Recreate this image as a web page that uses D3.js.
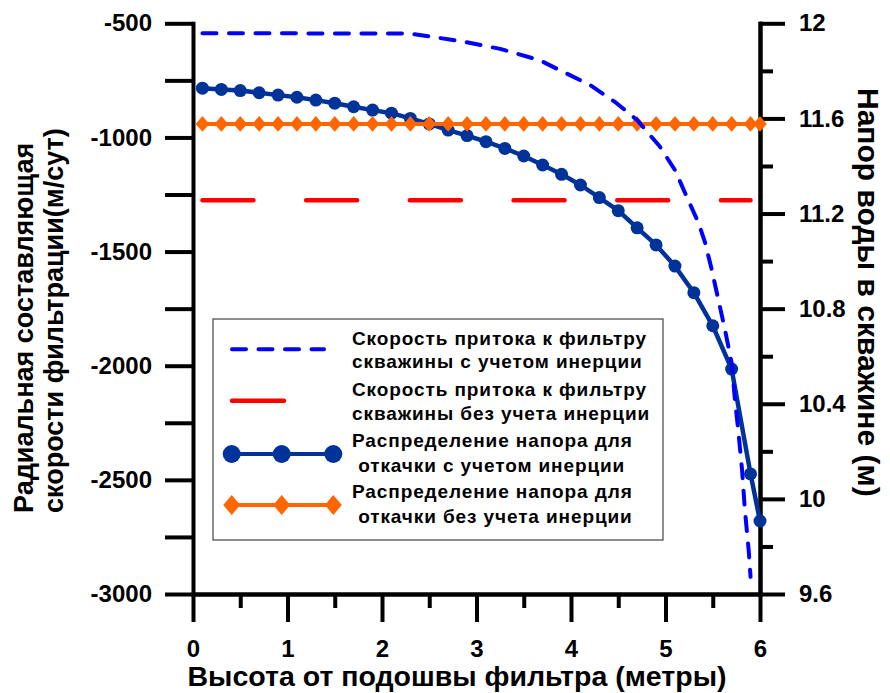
<!DOCTYPE html>
<html>
<head>
<meta charset="utf-8">
<script src="https://cdn.jsdelivr.net/npm/d3@7"></script>
<style>
  html, body { margin: 0; padding: 0; background: #fff; }
  svg { display: block; font-family: "Liberation Sans", Arial, sans-serif; font-weight: bold; }
</style>
</head>
<body>
<svg id="chart" width="890" height="693"></svg>
<script>
// ---------- DATA ----------
// heights (m) of the head-distribution points
const headX = [0.1, 0.3, 0.5, 0.7, 0.9, 1.1, 1.3, 1.5, 1.7, 1.9, 2.1, 2.3, 2.5, 2.7, 2.9,
               3.1, 3.3, 3.5, 3.7, 3.9, 4.1, 4.3, 4.5, 4.7, 4.9, 5.1, 5.3, 5.5, 5.7, 5.9, 6.0];
// head with inertia (right axis, m)
const headInertia = [11.727, 11.722, 11.717, 11.708, 11.698, 11.689, 11.677, 11.664, 11.649, 11.635,
                     11.622, 11.600, 11.577, 11.551, 11.528, 11.502, 11.474, 11.442, 11.404, 11.365,
                     11.320, 11.267, 11.212, 11.140, 11.068, 10.979, 10.867, 10.728, 10.546, 10.105, 9.907];
// head without inertia (right axis, m)
const headNoInertia = [11.577, 11.577, 11.577, 11.577, 11.577, 11.577, 11.577, 11.577, 11.577, 11.577,
                       11.577, 11.577, 11.577, 11.577, 11.577, 11.577, 11.577, 11.577, 11.577, 11.577,
                       11.577, 11.577, 11.577, 11.577, 11.577, 11.577, 11.577, 11.577, 11.577, 11.577, 11.577];
// inflow velocity with inertia (left axis, m/day)
const velInertiaX = [0.1, 1.0, 2.3, 2.86, 3.25, 3.67, 3.88, 4.2, 4.48, 4.7, 4.94, 5.1, 5.24, 5.35, 5.42,
                     5.49, 5.56, 5.63, 5.7, 5.735, 5.77, 5.81, 5.84, 5.88, 5.9];
const velInertia  = [-544, -544, -545, -580, -612, -662, -705, -770, -849, -924, -1040, -1143, -1274, -1375, -1462,
                     -1581, -1712, -1843, -1988, -2150, -2283, -2456, -2631, -2807, -2925];
// inflow velocity without inertia (left axis, m/day)
const velNoInertiaX = [0.1, 5.9];
const velNoInertia  = [-1275, -1275];

// ticks
const xMajorTicks = [0, 1, 2, 3, 4, 5, 6];
const xMinorTicks = [0.5, 1.5, 2.5, 3.5, 4.5, 5.5];
const leftTicks = [-3000, -2750, -2500, -2250, -2000, -1750, -1500, -1250, -1000, -750, -500];
const leftLabels = {"-3000": "-3000", "-2500": "-2500", "-2000": "-2000", "-1500": "-1500", "-1000": "-1000", "-500": "-500"};
const rightMajorTicks = [9.6, 10, 10.4, 10.8, 11.2, 11.6, 12];
const rightMajorLabels = ["9.6", "10", "10.4", "10.8", "11.2", "11.6", "12"];
const rightMinorTicks = [9.8, 10.2, 10.6, 11.0, 11.4, 11.8];

// text
const xTitle = "Высота от подошвы фильтра (метры)";
const leftTitle = ["Радиальная составляющая", "скорости фильтрации(м/сут)"];
const rightTitle = "Напор воды в скважине (м)";
const legendLabels = [
  ["Скорость притока к фильтру", "скважины с учетом инерции"],
  ["Скорость притока к фильтру", "скважины без учета инерции"],
  ["Распределение напора для", " откачки с учетом инерции"],
  ["Распределение напора для", " откачки без учета инерции"]
];

// ---------- STYLE ----------
const C_BLUE_DASH = "#0000ff", C_RED = "#ff0000", C_NAVY = "#003399", C_ORANGE = "#ff6600";

const svg = d3.select("#chart");
const x = d3.scaleLinear().domain([0, 6]).range([193, 760]);
const yL = d3.scaleLinear().domain([-3000, -500]).range([594, 23.3]);
const yR = d3.scaleLinear().domain([9.6, 12]).range([594, 23.3]);

function styleAxis(g) {
  g.selectAll("path.domain").attr("stroke", "#000").attr("stroke-width", 4).attr("stroke-linecap", "square");
  g.selectAll(".tick line").attr("stroke", "#000").attr("stroke-width", 4);
  g.selectAll(".tick text").attr("fill", "#000").style("font-size", "24px").style("font-weight", "bold")
    .style("font-family", '"Liberation Sans", Arial, sans-serif');
}

// ---------- AXES ----------
svg.append("g").attr("transform", "translate(0,594)")
  .call(d3.axisBottom(x).tickValues(xMinorTicks).tickSize(14).tickSizeOuter(0).tickFormat(""))
  .call(styleAxis);
svg.append("g").attr("transform", "translate(0,594)")
  .call(d3.axisBottom(x).tickValues(xMajorTicks).tickSize(28).tickSizeOuter(0).tickPadding(18).tickFormat(d => String(d)))
  .call(styleAxis);
svg.append("g").attr("transform", "translate(193,0)")
  .call(d3.axisLeft(yL).tickValues(leftTicks).tickSize(28).tickSizeOuter(0).tickPadding(13)
    .tickFormat(d => leftLabels[String(d)] || ""))
  .call(styleAxis);
svg.append("g").attr("transform", "translate(760,0)")
  .call(d3.axisRight(yR).tickValues(rightMinorTicks).tickSize(13).tickSizeOuter(0).tickFormat(""))
  .call(styleAxis);
svg.append("g").attr("transform", "translate(760,0)")
  .call(d3.axisRight(yR).tickValues(rightMajorTicks).tickSize(25).tickSizeOuter(0).tickPadding(14)
    .tickFormat((d, i) => rightMajorLabels[i]))
  .call(styleAxis);

// ---------- TITLES ----------
svg.append("text").attr("x", 457).attr("y", 686).attr("text-anchor", "middle")
  .style("font-size", "28.5px").text(xTitle);
[33, 63].forEach((bx, i) => {
  svg.append("text").attr("transform", `translate(${bx},513) rotate(-90)`)
    .attr("text-anchor", "start").style("font-size", "27px").text(leftTitle[i]);
});
svg.append("text").attr("transform", "translate(858,88) rotate(90)")
  .attr("text-anchor", "start").style("font-size", "30px").text(rightTitle);

// ---------- SERIES ----------
const plot = svg.append("g");
const lineHead = d3.line().x((d, i) => x(headX[i])).y(d => yR(d));

plot.append("path").datum(headInertia).attr("d", lineHead)
  .attr("fill", "none").attr("stroke", C_NAVY).attr("stroke-width", 4.5).attr("stroke-linejoin", "round");
plot.selectAll("circle.hi").data(headInertia).join("circle").attr("class", "hi")
  .attr("cx", (d, i) => x(headX[i])).attr("cy", d => yR(d)).attr("r", 6.5).attr("fill", C_NAVY);

const diamond = (cx, cy, hw, hh) => `M${cx},${cy - hh}L${cx + hw},${cy}L${cx},${cy + hh}L${cx - hw},${cy}Z`;
plot.append("path").datum(headNoInertia).attr("d", lineHead)
  .attr("fill", "none").attr("stroke", C_ORANGE).attr("stroke-width", 4);
plot.selectAll("path.hn").data(headNoInertia).join("path").attr("class", "hn")
  .attr("d", (d, i) => diamond(x(headX[i]), yR(d), 6.8, 7.8)).attr("fill", C_ORANGE);

plot.append("path").datum(velNoInertia)
  .attr("d", d3.line().x((d, i) => x(velNoInertiaX[i])).y(d => yL(d)))
  .attr("fill", "none").attr("stroke", C_RED).attr("stroke-width", 4.5)
  .attr("stroke-linecap", "round").attr("stroke-dasharray", "51 52.7");

plot.append("path").datum(velInertia)
  .attr("d", d3.line().x((d, i) => x(velInertiaX[i])).y(d => yL(d)))
  .attr("fill", "none").attr("stroke", C_BLUE_DASH).attr("stroke-width", 4)
  .attr("stroke-linecap", "round").attr("stroke-linejoin", "round").attr("stroke-dasharray", "14 12.5");

// ---------- LEGEND ----------
const lg = svg.append("g");
lg.append("rect").attr("x", 213).attr("y", 319).attr("width", 450).attr("height", 221)
  .attr("fill", "#fff").attr("stroke", "#444").attr("stroke-width", 1.2);

const symY = [349.3, 400.7, 454, 505];
const textY = [[345, 368.3], [396, 420], [446.7, 471.7], [498.3, 523]];
const symX = [231.7, 281.7, 333.3];

lg.append("line").attr("x1", 232).attr("x2", 324).attr("y1", symY[0]).attr("y2", symY[0])
  .attr("stroke", C_BLUE_DASH).attr("stroke-width", 4).attr("stroke-linecap", "round").attr("stroke-dasharray", "14 12.5");
lg.append("line").attr("x1", 232).attr("x2", 284).attr("y1", symY[1]).attr("y2", symY[1])
  .attr("stroke", C_RED).attr("stroke-width", 4.5).attr("stroke-linecap", "round");
lg.append("line").attr("x1", symX[0]).attr("x2", symX[2]).attr("y1", symY[2]).attr("y2", symY[2])
  .attr("stroke", C_NAVY).attr("stroke-width", 4);
symX.forEach(sx => lg.append("circle").attr("cx", sx).attr("cy", symY[2]).attr("r", 9).attr("fill", C_NAVY));
lg.append("line").attr("x1", symX[0]).attr("x2", symX[2]).attr("y1", symY[3]).attr("y2", symY[3])
  .attr("stroke", C_ORANGE).attr("stroke-width", 4);
symX.forEach(sx => lg.append("path").attr("d", diamond(sx, symY[3], 8.5, 10)).attr("fill", C_ORANGE));

legendLabels.forEach((lines, i) => {
  lines.forEach((t, j) => {
    lg.append("text").attr("x", 352).attr("y", textY[i][j])
      .attr("xml:space", "preserve").style("white-space", "pre")
      .style("font-size", "19px").style("letter-spacing", "0.9px").text(t);
  });
});
</script>
</body>
</html>
